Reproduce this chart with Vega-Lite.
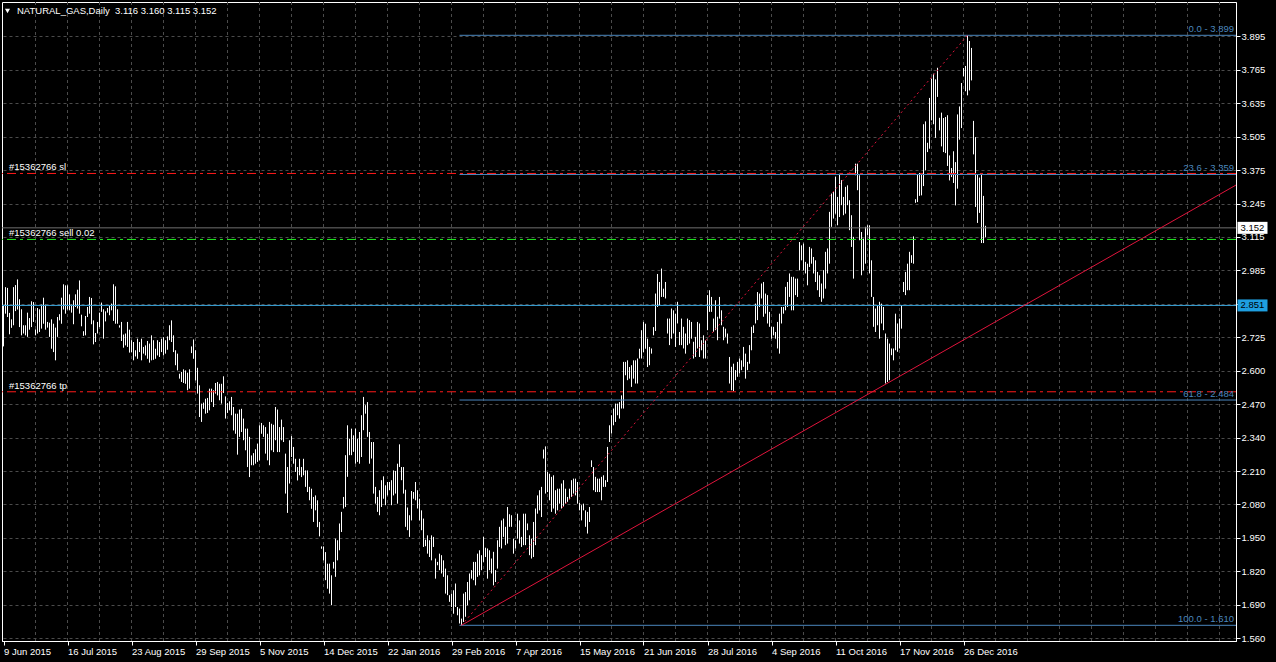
{
"$schema": "https://vega.github.io/schema/vega-lite/v6.json",
"width": 1234, "height": 639,
"autosize": {"type": "none"},
"padding": {"left": 2, "top": 2, "right": 40, "bottom": 21},
"background": "#000000",
"config": {"view": {"stroke": "#ffffff", "strokeWidth": 1}, "font": "Liberation Sans",
 "axis": {"labelOverlap": false}},
"datasets": {
"bars": [
{"i":0,"h":2.851,"l":2.692},{"i":1,"h":2.922,"l":2.819},{"i":2,"h":2.919,"l":2.806},{"i":3,"h":2.822,"l":2.739},{"i":4,"h":2.797,"l":2.764},{"i":5,"h":2.922,"l":2.774},{"i":6,"h":2.930,"l":2.829},{"i":7,"h":2.952,"l":2.835},{"i":8,"h":2.875,"l":2.767},{"i":9,"h":2.836,"l":2.735},
{"i":10,"h":2.774,"l":2.742},{"i":11,"h":2.774,"l":2.735},{"i":12,"h":2.823,"l":2.729},{"i":13,"h":2.802,"l":2.757},{"i":14,"h":2.867,"l":2.767},{"i":15,"h":2.864,"l":2.787},{"i":16,"h":2.758,"l":2.735},{"i":17,"h":2.841,"l":2.742},{"i":18,"h":2.836,"l":2.748},{"i":19,"h":2.854,"l":2.761},
{"i":20,"h":2.881,"l":2.780},{"i":21,"h":2.854,"l":2.757},{"i":22,"h":2.787,"l":2.765},{"i":23,"h":2.784,"l":2.729},{"i":24,"h":2.797,"l":2.683},{"i":25,"h":2.780,"l":2.670},{"i":26,"h":2.765,"l":2.638},{"i":27,"h":2.806,"l":2.729},{"i":28,"h":2.817,"l":2.793},{"i":29,"h":2.881,"l":2.780},
{"i":30,"h":2.933,"l":2.835},{"i":31,"h":2.929,"l":2.819},{"i":32,"h":2.929,"l":2.835},{"i":33,"h":2.894,"l":2.832},{"i":34,"h":2.854,"l":2.823},{"i":35,"h":2.871,"l":2.778},{"i":36,"h":2.894,"l":2.845},{"i":37,"h":2.912,"l":2.839},{"i":38,"h":2.948,"l":2.819},{"i":39,"h":2.815,"l":2.770},
{"i":40,"h":2.751,"l":2.733},{"i":41,"h":2.810,"l":2.735},{"i":42,"h":2.845,"l":2.806},{"i":43,"h":2.884,"l":2.819},{"i":44,"h":2.880,"l":2.778},{"i":45,"h":2.793,"l":2.700},{"i":46,"h":2.744,"l":2.709},{"i":47,"h":2.787,"l":2.742},{"i":48,"h":2.823,"l":2.767},{"i":49,"h":2.862,"l":2.826},
{"i":50,"h":2.836,"l":2.722},{"i":51,"h":2.828,"l":2.789},{"i":52,"h":2.841,"l":2.823},{"i":53,"h":2.849,"l":2.813},{"i":54,"h":2.858,"l":2.832},{"i":55,"h":2.933,"l":2.791},{"i":56,"h":2.925,"l":2.780},{"i":57,"h":2.836,"l":2.780},{"i":58,"h":2.774,"l":2.765},{"i":59,"h":2.787,"l":2.713},
{"i":60,"h":2.738,"l":2.687},{"i":61,"h":2.742,"l":2.696},{"i":62,"h":2.787,"l":2.690},{"i":63,"h":2.757,"l":2.668},{"i":64,"h":2.716,"l":2.670},{"i":65,"h":2.709,"l":2.638},{"i":66,"h":2.677,"l":2.653},{"i":67,"h":2.722,"l":2.644},{"i":68,"h":2.709,"l":2.670},{"i":69,"h":2.722,"l":2.638},
{"i":70,"h":2.690,"l":2.664},{"i":71,"h":2.696,"l":2.657},{"i":72,"h":2.713,"l":2.644},{"i":73,"h":2.703,"l":2.629},{"i":74,"h":2.735,"l":2.638},{"i":75,"h":2.716,"l":2.640},{"i":76,"h":2.683,"l":2.644},{"i":77,"h":2.716,"l":2.657},{"i":78,"h":2.709,"l":2.651},{"i":79,"h":2.722,"l":2.670},
{"i":80,"h":2.728,"l":2.657},{"i":81,"h":2.716,"l":2.664},{"i":82,"h":2.731,"l":2.679},{"i":83,"h":2.774,"l":2.716},{"i":84,"h":2.793,"l":2.709},{"i":85,"h":2.735,"l":2.670},{"i":86,"h":2.677,"l":2.619},{"i":87,"h":2.664,"l":2.599},{"i":88,"h":2.586,"l":2.567},{"i":89,"h":2.593,"l":2.554},
{"i":90,"h":2.603,"l":2.550},{"i":91,"h":2.599,"l":2.547},{"i":92,"h":2.590,"l":2.522},{"i":93,"h":2.603,"l":2.528},{"i":94,"h":2.692,"l":2.666},{"i":95,"h":2.719,"l":2.644},{"i":96,"h":2.677,"l":2.560},{"i":97,"h":2.609,"l":2.509},{"i":98,"h":2.541,"l":2.418},{"i":99,"h":2.470,"l":2.399},
{"i":100,"h":2.474,"l":2.450},{"i":101,"h":2.489,"l":2.431},{"i":102,"h":2.492,"l":2.434},{"i":103,"h":2.528,"l":2.444},{"i":104,"h":2.528,"l":2.476},{"i":105,"h":2.522,"l":2.457},{"i":106,"h":2.550,"l":2.509},{"i":107,"h":2.554,"l":2.502},{"i":108,"h":2.547,"l":2.483},{"i":109,"h":2.547,"l":2.470},
{"i":110,"h":2.576,"l":2.511},{"i":111,"h":2.498,"l":2.412},{"i":112,"h":2.472,"l":2.434},{"i":113,"h":2.479,"l":2.444},{"i":114,"h":2.496,"l":2.425},{"i":115,"h":2.457,"l":2.366},{"i":116,"h":2.431,"l":2.353},{"i":117,"h":2.431,"l":2.272},{"i":118,"h":2.447,"l":2.341},{"i":119,"h":2.450,"l":2.360},
{"i":120,"h":2.412,"l":2.328},{"i":121,"h":2.373,"l":2.289},{"i":122,"h":2.373,"l":2.224},{"i":123,"h":2.341,"l":2.185},{"i":124,"h":2.269,"l":2.231},{"i":125,"h":2.278,"l":2.231},{"i":126,"h":2.293,"l":2.237},{"i":127,"h":2.315,"l":2.244},{"i":128,"h":2.386,"l":2.250},{"i":129,"h":2.395,"l":2.353},
{"i":130,"h":2.386,"l":2.341},{"i":131,"h":2.379,"l":2.276},{"i":132,"h":2.353,"l":2.250},{"i":133,"h":2.399,"l":2.231},{"i":134,"h":2.392,"l":2.289},{"i":135,"h":2.388,"l":2.282},{"i":136,"h":2.457,"l":2.328},{"i":137,"h":2.447,"l":2.282},{"i":138,"h":2.379,"l":2.282},{"i":139,"h":2.408,"l":2.328},
{"i":140,"h":2.379,"l":2.321},{"i":141,"h":2.276,"l":2.121},{"i":142,"h":2.224,"l":2.046},{"i":143,"h":2.328,"l":2.160},{"i":144,"h":2.344,"l":2.263},{"i":145,"h":2.302,"l":2.237},{"i":146,"h":2.256,"l":2.205},{"i":147,"h":2.224,"l":2.172},{"i":148,"h":2.256,"l":2.192},{"i":149,"h":2.224,"l":2.185},
{"i":150,"h":2.256,"l":2.192},{"i":151,"h":2.211,"l":2.147},{"i":152,"h":2.211,"l":2.127},{"i":153,"h":2.147,"l":2.095},{"i":154,"h":2.140,"l":2.062},{"i":155,"h":2.108,"l":2.011},{"i":156,"h":2.114,"l":2.056},{"i":157,"h":2.095,"l":1.991},{"i":158,"h":2.011,"l":1.955},{"i":159,"h":1.916,"l":1.907},
{"i":160,"h":1.916,"l":1.862},{"i":161,"h":1.894,"l":1.785},{"i":162,"h":1.849,"l":1.752},{"i":163,"h":1.849,"l":1.733},{"i":164,"h":1.804,"l":1.688},{"i":165,"h":1.856,"l":1.830},{"i":166,"h":1.946,"l":1.798},{"i":167,"h":1.940,"l":1.862},{"i":168,"h":2.005,"l":1.901},{"i":169,"h":2.050,"l":1.972},
{"i":170,"h":2.108,"l":2.063},{"i":171,"h":2.270,"l":2.069},{"i":172,"h":2.386,"l":2.186},{"i":173,"h":2.334,"l":2.270},{"i":174,"h":2.373,"l":2.270},{"i":175,"h":2.347,"l":2.283},{"i":176,"h":2.373,"l":2.237},{"i":177,"h":2.334,"l":2.244},{"i":178,"h":2.360,"l":2.237},{"i":179,"h":2.425,"l":2.263},
{"i":180,"h":2.496,"l":2.367},{"i":181,"h":2.464,"l":2.431},{"i":182,"h":2.476,"l":2.341},{"i":183,"h":2.360,"l":2.237},{"i":184,"h":2.321,"l":2.257},{"i":185,"h":2.321,"l":2.121},{"i":186,"h":2.147,"l":2.082},{"i":187,"h":2.108,"l":2.050},{"i":188,"h":2.134,"l":2.037},{"i":189,"h":2.173,"l":2.069},
{"i":190,"h":2.188,"l":2.101},{"i":191,"h":2.153,"l":2.076},{"i":192,"h":2.166,"l":2.114},{"i":193,"h":2.166,"l":2.134},{"i":194,"h":2.173,"l":2.076},{"i":195,"h":2.211,"l":2.114},{"i":196,"h":2.209,"l":2.121},{"i":197,"h":2.237,"l":2.082},{"i":198,"h":2.312,"l":2.224},{"i":199,"h":2.224,"l":2.173},
{"i":200,"h":2.224,"l":2.121},{"i":201,"h":2.136,"l":1.992},{"i":202,"h":2.067,"l":1.979},{"i":203,"h":2.037,"l":1.953},{"i":204,"h":2.131,"l":2.017},{"i":205,"h":2.127,"l":2.101},{"i":206,"h":2.166,"l":2.095},{"i":207,"h":2.134,"l":2.063},{"i":208,"h":2.101,"l":2.017},{"i":209,"h":2.056,"l":1.979},
{"i":210,"h":2.024,"l":1.914},{"i":211,"h":1.942,"l":1.917},{"i":212,"h":1.959,"l":1.888},{"i":213,"h":1.940,"l":1.875},{"i":214,"h":1.959,"l":1.862},{"i":215,"h":1.953,"l":1.914},{"i":216,"h":1.869,"l":1.791},{"i":217,"h":1.856,"l":1.843},{"i":218,"h":1.888,"l":1.824},{"i":219,"h":1.882,"l":1.811},
{"i":220,"h":1.862,"l":1.798},{"i":221,"h":1.830,"l":1.733},{"i":222,"h":1.804,"l":1.727},{"i":223,"h":1.727,"l":1.701},{"i":224,"h":1.733,"l":1.681},{"i":225,"h":1.746,"l":1.655},{"i":226,"h":1.772,"l":1.681},{"i":227,"h":1.681,"l":1.649},{"i":228,"h":1.675,"l":1.617},{"i":229,"h":1.636,"l":1.610},
{"i":230,"h":1.733,"l":1.623},{"i":231,"h":1.739,"l":1.643},{"i":232,"h":1.778,"l":1.688},{"i":233,"h":1.811,"l":1.707},{"i":234,"h":1.824,"l":1.791},{"i":235,"h":1.856,"l":1.785},{"i":236,"h":1.856,"l":1.765},{"i":237,"h":1.888,"l":1.798},{"i":238,"h":1.901,"l":1.804},{"i":239,"h":1.882,"l":1.824},
{"i":240,"h":1.953,"l":1.856},{"i":241,"h":1.911,"l":1.875},{"i":242,"h":1.908,"l":1.791},{"i":243,"h":1.901,"l":1.824},{"i":244,"h":1.869,"l":1.811},{"i":245,"h":1.895,"l":1.765},{"i":246,"h":1.824,"l":1.778},{"i":247,"h":1.940,"l":1.830},{"i":248,"h":1.992,"l":1.914},{"i":249,"h":2.017,"l":1.908},
{"i":250,"h":2.024,"l":1.953},{"i":251,"h":1.992,"l":1.921},{"i":252,"h":2.069,"l":1.927},{"i":253,"h":2.041,"l":1.992},{"i":254,"h":2.037,"l":1.992},{"i":255,"h":1.946,"l":1.888},{"i":256,"h":1.940,"l":1.908},{"i":257,"h":2.043,"l":1.946},{"i":258,"h":2.017,"l":1.927},{"i":259,"h":1.953,"l":1.914},
{"i":260,"h":2.043,"l":1.921},{"i":261,"h":2.043,"l":1.921},{"i":262,"h":2.005,"l":1.979},{"i":263,"h":1.959,"l":1.882},{"i":264,"h":1.946,"l":1.869},{"i":265,"h":2.011,"l":1.875},{"i":266,"h":2.063,"l":1.921},{"i":267,"h":2.114,"l":2.043},{"i":268,"h":2.134,"l":2.056},{"i":269,"h":2.147,"l":2.030},
{"i":270,"h":2.292,"l":2.257},{"i":271,"h":2.304,"l":2.121},{"i":272,"h":2.205,"l":2.127},{"i":273,"h":2.198,"l":2.095},{"i":274,"h":2.186,"l":2.050},{"i":275,"h":2.192,"l":2.063},{"i":276,"h":2.134,"l":2.043},{"i":277,"h":2.140,"l":2.056},{"i":278,"h":2.140,"l":2.082},{"i":279,"h":2.160,"l":2.063},
{"i":280,"h":2.173,"l":2.069},{"i":281,"h":2.140,"l":2.082},{"i":282,"h":2.108,"l":2.089},{"i":283,"h":2.140,"l":2.101},{"i":284,"h":2.173,"l":2.108},{"i":285,"h":2.179,"l":2.121},{"i":286,"h":2.179,"l":2.114},{"i":287,"h":2.166,"l":2.082},{"i":288,"h":2.085,"l":2.056},{"i":289,"h":2.076,"l":2.017},
{"i":290,"h":2.082,"l":2.056},{"i":291,"h":2.056,"l":1.992},{"i":292,"h":2.050,"l":1.966},{"i":293,"h":2.069,"l":2.011},{"i":294,"h":2.250,"l":2.224},{"i":295,"h":2.224,"l":2.134},{"i":296,"h":2.186,"l":2.127},{"i":297,"h":2.179,"l":2.127},{"i":298,"h":2.179,"l":2.127},{"i":299,"h":2.186,"l":2.095},
{"i":300,"h":2.192,"l":2.147},{"i":301,"h":2.173,"l":2.147},{"i":302,"h":2.302,"l":2.166},{"i":303,"h":2.386,"l":2.321},{"i":304,"h":2.425,"l":2.354},{"i":305,"h":2.451,"l":2.386},{"i":306,"h":2.470,"l":2.399},{"i":307,"h":2.470,"l":2.425},{"i":308,"h":2.476,"l":2.412},{"i":309,"h":2.502,"l":2.451},
{"i":310,"h":2.632,"l":2.451},{"i":311,"h":2.632,"l":2.580},{"i":312,"h":2.638,"l":2.561},{"i":313,"h":2.612,"l":2.567},{"i":314,"h":2.619,"l":2.535},{"i":315,"h":2.638,"l":2.567},{"i":316,"h":2.638,"l":2.548},{"i":317,"h":2.645,"l":2.548},{"i":318,"h":2.683,"l":2.645},{"i":319,"h":2.755,"l":2.645},
{"i":320,"h":2.787,"l":2.670},{"i":321,"h":2.780,"l":2.683},{"i":322,"h":2.722,"l":2.612},{"i":323,"h":2.690,"l":2.619},{"i":324,"h":2.684,"l":2.664},{"i":325,"h":2.767,"l":2.735},{"i":326,"h":2.897,"l":2.752},{"i":327,"h":2.973,"l":2.845},{"i":328,"h":2.942,"l":2.851},{"i":329,"h":2.994,"l":2.884},
{"i":330,"h":2.916,"l":2.884},{"i":331,"h":2.942,"l":2.878},{"i":332,"h":2.800,"l":2.742},{"i":333,"h":2.800,"l":2.697},{"i":334,"h":2.839,"l":2.722},{"i":335,"h":2.832,"l":2.742},{"i":336,"h":2.819,"l":2.690},{"i":337,"h":2.865,"l":2.781},{"i":338,"h":2.748,"l":2.697},{"i":339,"h":2.800,"l":2.697},
{"i":340,"h":2.768,"l":2.684},{"i":341,"h":2.742,"l":2.664},{"i":342,"h":2.800,"l":2.697},{"i":343,"h":2.794,"l":2.703},{"i":344,"h":2.787,"l":2.722},{"i":345,"h":2.710,"l":2.645},{"i":346,"h":2.729,"l":2.651},{"i":347,"h":2.787,"l":2.684},{"i":348,"h":2.781,"l":2.651},{"i":349,"h":2.716,"l":2.677},
{"i":350,"h":2.735,"l":2.645},{"i":351,"h":2.716,"l":2.645},{"i":352,"h":2.891,"l":2.755},{"i":353,"h":2.910,"l":2.826},{"i":354,"h":2.884,"l":2.826},{"i":355,"h":2.800,"l":2.748},{"i":356,"h":2.871,"l":2.755},{"i":357,"h":2.807,"l":2.716},{"i":358,"h":2.884,"l":2.800},{"i":359,"h":2.832,"l":2.774},
{"i":360,"h":2.768,"l":2.716},{"i":361,"h":2.761,"l":2.729},{"i":362,"h":2.742,"l":2.703},{"i":363,"h":2.651,"l":2.548},{"i":364,"h":2.613,"l":2.522},{"i":365,"h":2.625,"l":2.519},{"i":366,"h":2.600,"l":2.561},{"i":367,"h":2.632,"l":2.574},{"i":368,"h":2.645,"l":2.587},{"i":369,"h":2.638,"l":2.600},
{"i":370,"h":2.690,"l":2.613},{"i":371,"h":2.664,"l":2.567},{"i":372,"h":2.632,"l":2.600},{"i":373,"h":2.697,"l":2.625},{"i":374,"h":2.768,"l":2.677},{"i":375,"h":2.774,"l":2.744},{"i":376,"h":2.858,"l":2.781},{"i":377,"h":2.903,"l":2.794},{"i":378,"h":2.897,"l":2.845},{"i":379,"h":2.936,"l":2.878},
{"i":380,"h":2.942,"l":2.807},{"i":381,"h":2.897,"l":2.819},{"i":382,"h":2.891,"l":2.781},{"i":383,"h":2.826,"l":2.768},{"i":384,"h":2.768,"l":2.722},{"i":385,"h":2.768,"l":2.735},{"i":386,"h":2.748,"l":2.722},{"i":387,"h":2.787,"l":2.684},{"i":388,"h":2.819,"l":2.664},{"i":389,"h":2.845,"l":2.781},
{"i":390,"h":2.845,"l":2.819},{"i":391,"h":2.923,"l":2.832},{"i":392,"h":2.942,"l":2.845},{"i":393,"h":2.975,"l":2.884},{"i":394,"h":2.962,"l":2.832},{"i":395,"h":2.962,"l":2.832},{"i":396,"h":2.955,"l":2.891},{"i":397,"h":2.955,"l":2.884},{"i":398,"h":3.097,"l":2.987},{"i":399,"h":3.084,"l":3.026},
{"i":400,"h":3.091,"l":2.987},{"i":401,"h":3.020,"l":2.975},{"i":402,"h":3.013,"l":2.929},{"i":403,"h":3.078,"l":3.000},{"i":404,"h":3.072,"l":3.013},{"i":405,"h":3.039,"l":2.975},{"i":406,"h":3.026,"l":2.942},{"i":407,"h":2.981,"l":2.910},{"i":408,"h":2.968,"l":2.884},{"i":409,"h":2.936,"l":2.865},
{"i":410,"h":2.988,"l":2.878},{"i":411,"h":3.059,"l":2.916},{"i":412,"h":3.072,"l":2.975},{"i":413,"h":3.214,"l":3.013},{"i":414,"h":3.285,"l":3.156},{"i":415,"h":3.291,"l":3.188},{"i":416,"h":3.350,"l":3.207},{"i":417,"h":3.272,"l":3.162},{"i":418,"h":3.362,"l":3.194},{"i":419,"h":3.337,"l":3.240},
{"i":420,"h":3.272,"l":3.201},{"i":421,"h":3.311,"l":3.207},{"i":422,"h":3.317,"l":3.240},{"i":423,"h":3.259,"l":3.143},{"i":424,"h":3.201,"l":3.078},{"i":425,"h":3.117,"l":2.955},{"i":426,"h":3.401,"l":3.356},{"i":427,"h":3.401,"l":3.298},{"i":428,"h":3.356,"l":3.104},{"i":429,"h":3.136,"l":2.968},
{"i":430,"h":3.110,"l":2.987},{"i":431,"h":3.156,"l":3.013},{"i":432,"h":3.162,"l":3.123},{"i":433,"h":3.162,"l":2.975},{"i":434,"h":3.026,"l":2.884},{"i":435,"h":2.884,"l":2.768},{"i":436,"h":2.839,"l":2.748},{"i":437,"h":2.852,"l":2.774},{"i":438,"h":2.865,"l":2.722},{"i":439,"h":2.858,"l":2.781},
{"i":440,"h":2.845,"l":2.755},{"i":441,"h":2.742,"l":2.548},{"i":442,"h":2.722,"l":2.554},{"i":443,"h":2.703,"l":2.561},{"i":444,"h":2.684,"l":2.658},{"i":445,"h":2.684,"l":2.638},{"i":446,"h":2.819,"l":2.677},{"i":447,"h":2.781,"l":2.671},{"i":448,"h":2.800,"l":2.684},{"i":449,"h":2.852,"l":2.761},
{"i":450,"h":2.942,"l":2.903},{"i":451,"h":2.981,"l":2.891},{"i":452,"h":3.013,"l":2.910},{"i":453,"h":3.059,"l":2.910},{"i":454,"h":3.046,"l":3.016},{"i":455,"h":3.119,"l":3.013},{"i":456,"h":3.263,"l":3.249},{"i":457,"h":3.360,"l":3.252},{"i":458,"h":3.365,"l":3.276},{"i":459,"h":3.362,"l":3.278},
{"i":460,"h":3.554,"l":3.314},{"i":461,"h":3.565,"l":3.375},{"i":462,"h":3.482,"l":3.446},{"i":463,"h":3.656,"l":3.459},{"i":464,"h":3.731,"l":3.569},{"i":465,"h":3.750,"l":3.554},{"i":466,"h":3.728,"l":3.501},{"i":467,"h":3.773,"l":3.660},{"i":468,"h":3.579,"l":3.530},{"i":469,"h":3.599,"l":3.468},
{"i":470,"h":3.578,"l":3.446},{"i":471,"h":3.582,"l":3.442},{"i":472,"h":3.589,"l":3.392},{"i":473,"h":3.433,"l":3.336},{"i":474,"h":3.384,"l":3.349},{"i":475,"h":3.449,"l":3.326},{"i":476,"h":3.407,"l":3.239},{"i":477,"h":3.592,"l":3.304},{"i":478,"h":3.623,"l":3.494},{"i":479,"h":3.714,"l":3.539},
{"i":480,"h":3.772,"l":3.740},{"i":481,"h":3.780,"l":3.682},{"i":482,"h":3.899,"l":3.666},{"i":483,"h":3.877,"l":3.685},{"i":484,"h":3.850,"l":3.724},{"i":485,"h":3.567,"l":3.437},{"i":486,"h":3.504,"l":3.233},{"i":487,"h":3.360,"l":3.171},{"i":488,"h":3.347,"l":3.210},{"i":489,"h":3.358,"l":3.093},
{"i":490,"h":3.276,"l":3.093},{"i":491,"h":3.160,"l":3.115}
],
"vgrid": [{"g":16},{"g":32},{"g":48},{"g":64},{"g":80},{"g":96},{"g":112},{"g":128},{"g":144},{"g":160},{"g":176},{"g":192},{"g":208},{"g":224},{"g":240},{"g":256},{"g":272},{"g":288},{"g":304},{"g":320},{"g":336},{"g":352},{"g":368},{"g":384},{"g":400},{"g":416},{"g":432},{"g":448},{"g":464},{"g":480},{"g":496},{"g":512},{"g":528},{"g":544},{"g":560},{"g":576},{"g":592},{"g":608}],
"orders": [
{"kind":"sl","t":"#15362766 sl","p":3.363},
{"kind":"sell","t":"#15362766 sell 0.02","p":3.107},
{"kind":"tp","t":"#15362766 tp","p":2.516}
],
"levels": [
{"kind":"bid","p":3.152},
{"kind":"hline","p":2.851}
],
"fibo": [
{"t":"0.0 - 3.899","p":3.899},
{"t":"23.6 - 3.359","p":3.359},
{"t":"61.8 - 2.484","p":2.484},
{"t":"100.0 - 1.610","p":1.610}
],
"trend": [{"i":229,"p":1.610,"i2":616.25,"p2":3.318}],
"fiboTrend": [{"i":229,"p":1.610,"i2":482,"p2":3.899}],
"boxes": [{"v":"3.152","p":3.152},{"v":"2.851","p":2.851}],
"header": [{"t":"NATURAL_GAS,Daily\u00a0 3.116 3.160 3.115 3.152"}]
},
"layer": [
{
"data": {"name": "vgrid"},
"mark": {"type": "rule", "color": "#4b4b4b", "strokeWidth": 1, "strokeDash": [3, 3]},
"encoding": {"x": {"field": "g", "type": "quantitative"}}
},
{
"data": {"name": "bars"},
"mark": {"type": "rule", "color": "#ffffff", "strokeWidth": 1},
"encoding": {
"x": {"field": "i", "type": "quantitative", "scale": {"domain": [-0.75, 616.25], "nice": false, "zero": false},
 "axis": {"orient": "bottom", "title": null, "tickCount": 100,
  "values": [0,32,64,96,128,160,192,224,256,288,320,352,384,416,448,480],
  "labelExpr": "['9 Jun 2015','16 Jul 2015','23 Aug 2015','29 Sep 2015','5 Nov 2015','14 Dec 2015','22 Jan 2016','29 Feb 2016','7 Apr 2016','15 May 2016','21 Jun 2016','28 Jul 2016','4 Sep 2016','11 Oct 2016','17 Nov 2016','26 Dec 2016'][round(datum.value / 32)]",
  "labelAlign": "left", "labelBaseline": "top", "labelPadding": 1, "labelColor": "#ffffff", "labelFont": "Liberation Sans", "labelFontSize": 9.5,
  "labelOverlap": false, "labelFlush": false, "labelBound": false,
  "tickColor": "#ffffff", "tickSize": 4, "tickWidth": 1,
  "domain": true, "domainColor": "#ffffff", "grid": false}},
"y": {"field": "l", "type": "quantitative", "scale": {"domain": [1.5491, 4.0282], "nice": false, "zero": false},
 "axis": {"orient": "right", "title": null, "tickCount": 100,
  "values": [1.56,1.6897222,1.8194444,1.9491667,2.0788889,2.2086111,2.3383333,2.4680556,2.5977778,2.7275,2.8572222,2.9869444,3.1166667,3.2463889,3.3761111,3.5058333,3.6355556,3.7652778,3.895],
  "labelExpr": "['1.560','1.690','1.820','1.950','2.080','2.210','2.340','2.470','2.600','2.725','','2.985','3.115','3.245','3.375','3.505','3.635','3.765','3.895'][round((datum.value - 1.56) / 0.1297222)]",
  "labelAlign": "left", "labelBaseline": "middle", "labelPadding": 1, "labelColor": "#ffffff", "labelFont": "Liberation Sans", "labelFontSize": 9.5,
  "labelOverlap": false, "labelFlush": false, "labelBound": false,
  "tickColor": "#ffffff", "tickSize": 4, "tickWidth": 1,
  "domain": true, "domainColor": "#ffffff",
  "grid": true, "gridColor": "#4b4b4b", "gridDash": [3, 3], "gridWidth": 1}},
"y2": {"field": "h"}
}
},
{
"data": {"name": "levels"},
"transform": [{"filter": "datum.kind == 'bid'"}],
"mark": {"type": "rule", "color": "#707070", "strokeWidth": 1},
"encoding": {"y": {"field": "p", "type": "quantitative"}}
},
{
"data": {"name": "levels"},
"transform": [{"filter": "datum.kind == 'hline'"}],
"mark": {"type": "rule", "color": "#3aa6dc", "strokeWidth": 1},
"encoding": {"y": {"field": "p", "type": "quantitative"}}
},
{
"data": {"name": "fibo"},
"mark": {"type": "rule", "color": "#4a86bd", "strokeWidth": 1},
"encoding": {
"x": {"datum": 228, "type": "quantitative"},
"x2": {"datum": 616.25},
"y": {"field": "p", "type": "quantitative"}
}
},
{
"data": {"name": "orders"},
"transform": [{"filter": "datum.kind != 'sell'"}],
"mark": {"type": "rule", "color": "#ff1a1a", "strokeWidth": 1, "strokeDash": [9, 4, 3, 4]},
"encoding": {"y": {"field": "p", "type": "quantitative"}}
},
{
"data": {"name": "orders"},
"transform": [{"filter": "datum.kind == 'sell'"}],
"mark": {"type": "rule", "color": "#22ee22", "strokeWidth": 1, "strokeDash": [9, 4, 3, 4]},
"encoding": {"y": {"field": "p", "type": "quantitative"}}
},
{
"data": {"name": "trend"},
"mark": {"type": "rule", "color": "#e0143c", "strokeWidth": 1},
"encoding": {
"x": {"field": "i", "type": "quantitative"},
"x2": {"field": "i2"},
"y": {"field": "p", "type": "quantitative"},
"y2": {"field": "p2"}
}
},
{
"data": {"name": "fiboTrend"},
"mark": {"type": "rule", "color": "#e0143c", "strokeWidth": 1, "strokeDash": [2, 3]},
"encoding": {
"x": {"field": "i", "type": "quantitative"},
"x2": {"field": "i2"},
"y": {"field": "p", "type": "quantitative"},
"y2": {"field": "p2"}
}
},
{
"data": {"name": "orders"},
"mark": {"type": "text", "color": "#ffffff", "font": "Liberation Sans", "fontSize": 9.5, "align": "left", "baseline": "middle", "dy": -6},
"encoding": {
"x": {"datum": 2.75, "type": "quantitative"},
"y": {"field": "p", "type": "quantitative"},
"text": {"field": "t"}
}
},
{
"data": {"name": "fibo"},
"mark": {"type": "text", "color": "#4a86bd", "font": "Liberation Sans", "fontSize": 9.5, "align": "right", "baseline": "middle", "dy": -6},
"encoding": {
"x": {"datum": 615.25, "type": "quantitative"},
"y": {"field": "p", "type": "quantitative"},
"text": {"field": "t"}
}
},
{
"data": {"name": "header"},
"mark": {"type": "point", "shape": "triangle-down", "filled": true, "color": "#ffffff", "size": 26, "opacity": 1},
"encoding": {
"x": {"datum": 2, "type": "quantitative"},
"y": {"datum": 3.993, "type": "quantitative"}
}
},
{
"data": {"name": "header"},
"mark": {"type": "text", "color": "#ffffff", "font": "Liberation Sans", "fontSize": 9.5, "align": "left", "baseline": "middle"},
"encoding": {
"x": {"datum": 6.75, "type": "quantitative"},
"y": {"datum": 3.993, "type": "quantitative"},
"text": {"field": "t"}
}
},
{
"data": {"name": "boxes"},
"transform": [{"filter": "datum.v == '3.152'"}],
"mark": {"type": "rect", "color": "#ffffff", "width": 30, "height": 12},
"encoding": {
"x": {"datum": 624.5, "type": "quantitative"},
"y": {"field": "p", "type": "quantitative"}
}
},
{
"data": {"name": "boxes"},
"transform": [{"filter": "datum.v == '2.851'"}],
"mark": {"type": "rect", "color": "#1e9fe0", "width": 30, "height": 12},
"encoding": {
"x": {"datum": 624.5, "type": "quantitative"},
"y": {"field": "p", "type": "quantitative"}
}
},
{
"data": {"name": "boxes"},
"mark": {"type": "text", "color": "#000000", "font": "Liberation Sans", "fontSize": 9.5, "align": "left", "baseline": "middle"},
"encoding": {
"x": {"datum": 618.5, "type": "quantitative"},
"y": {"field": "p", "type": "quantitative"},
"text": {"field": "v"}
}
}
]
}
